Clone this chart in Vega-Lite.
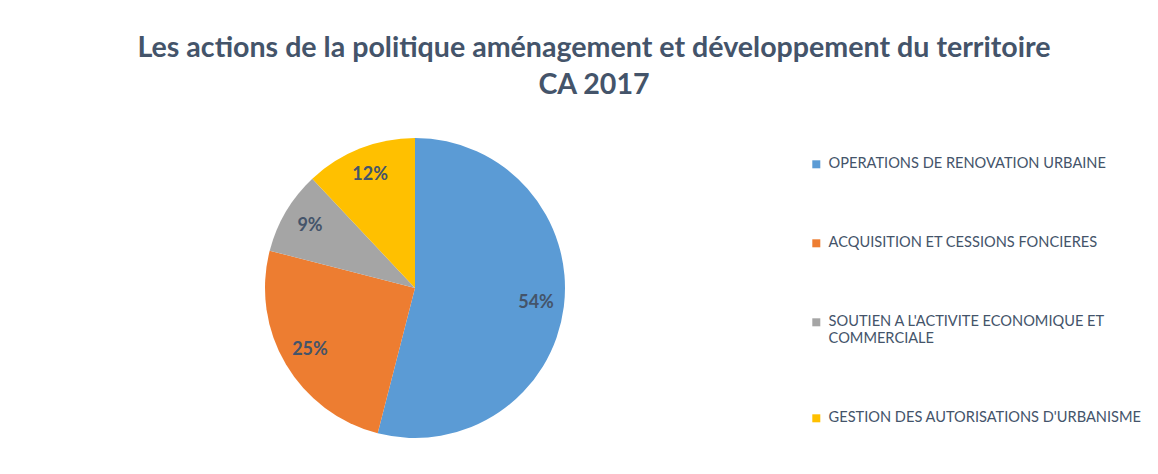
{
  "$schema": "https://vega.github.io/schema/vega-lite/v6.json",
  "autosize": "none",
  "width": 830,
  "height": 316,
  "padding": {"top": 130, "left": 0, "right": 328, "bottom": 28},
  "background": "white",
  "title": {
    "text": ["Les actions de la politique aménagement et développement du territoire", "CA 2017"],
    "font": "Lato",
    "fontSize": 28.6,
    "fontWeight": "bold",
    "color": "#44546A",
    "lineHeight": 37,
    "anchor": "middle",
    "frame": "group",
    "dx": 179,
    "offset": 30
  },
  "data": {
    "values": [
      {"action": "OPERATIONS DE RENOVATION URBAINE", "part": 54, "ordre": 1, "etiquette": "54%"},
      {"action": "ACQUISITION ET CESSIONS FONCIERES", "part": 25, "ordre": 2, "etiquette": "25%"},
      {"action": "SOUTIEN A L'ACTIVITE ECONOMIQUE ET COMMERCIALE", "part": 9, "ordre": 3, "etiquette": "9%"},
      {"action": "GESTION DES AUTORISATIONS D'URBANISME", "part": 12, "ordre": 4, "etiquette": "12%"}
    ]
  },
  "encoding": {
    "theta": {"field": "part", "type": "quantitative", "stack": true},
    "order": {"field": "ordre", "type": "quantitative"}
  },
  "layer": [
    {
      "mark": {"type": "arc", "outerRadius": 150},
      "encoding": {
        "color": {
          "field": "action",
          "type": "nominal",
          "scale": {
            "domain": ["OPERATIONS DE RENOVATION URBAINE", "ACQUISITION ET CESSIONS FONCIERES", "SOUTIEN A L'ACTIVITE ECONOMIQUE ET COMMERCIALE", "GESTION DES AUTORISATIONS D'URBANISME"],
            "range": ["#5B9BD5", "#ED7D31", "#A5A5A5", "#FFC000"]
          },
          "legend": {
            "title": null,
            "orient": "none",
            "legendX": 809,
            "legendY": 27,
            "padding": 0,
            "symbolType": "square",
            "symbolSize": 64,
            "symbolStrokeWidth": 0,
            "labelFont": "Lato",
            "labelFontSize": 14.6,
            "labelColor": "#44546A",
            "labelOffset": 5,
            "labelLimit": 400,
            "rowPadding": 64,
            "labelExpr": "datum.label == \"SOUTIEN A L'ACTIVITE ECONOMIQUE ET COMMERCIALE\" ? [\"SOUTIEN A L'ACTIVITE ECONOMIQUE ET\", \"COMMERCIALE\"] : datum.label"
          }
        }
      }
    },
    {
      "mark": {"type": "text", "radius": 122, "font": "Lato", "fontWeight": "bold", "fontSize": 18, "fill": "#44546A"},
      "encoding": {"text": {"field": "etiquette", "type": "nominal"}}
    }
  ],
  "config": {"view": {"stroke": null}}
}
